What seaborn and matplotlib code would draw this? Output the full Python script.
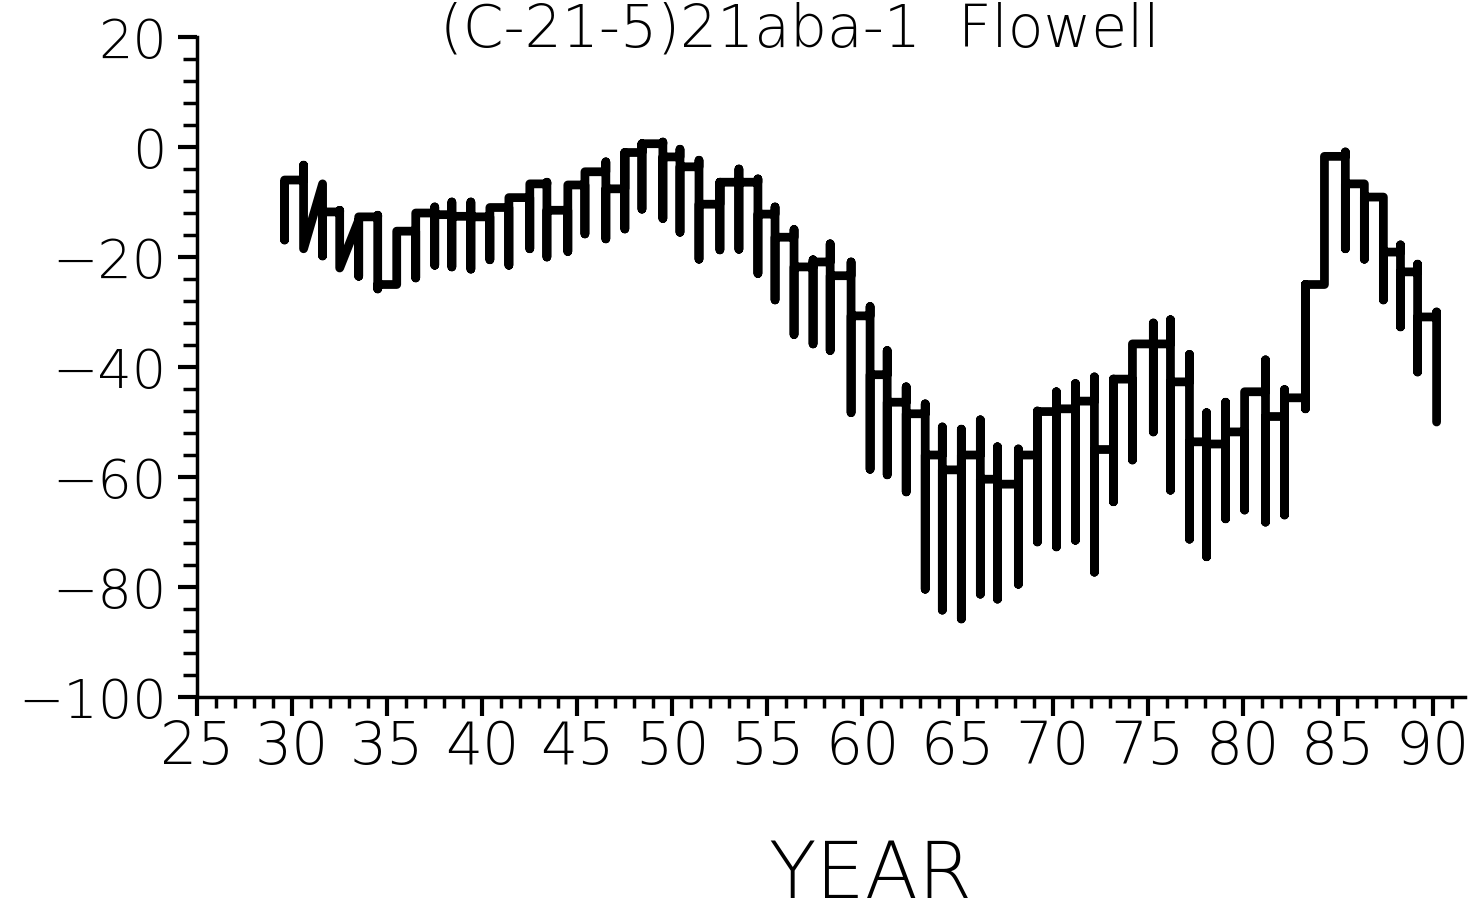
import numpy as np
import pandas as pd
import seaborn as sns
import matplotlib.pyplot as plt
from matplotlib.ticker import FixedLocator, MultipleLocator

# ! Hydrograph data
# ? one spike per year: spring high, summer low, then the level the line settles at
spike_year = [29.6, 30.6, 31.6, 32.5, 33.5, 34.5, 35.5, 36.5, 37.5, 38.4,
              39.4, 40.4, 41.4, 42.5, 43.4, 44.5, 45.4, 46.5, 47.5, 48.4,
              49.5, 50.4, 51.4, 52.5, 53.5, 54.5, 55.4, 56.4, 57.4, 58.3,
              59.4, 60.4, 61.3, 62.3, 63.3, 64.2, 65.2, 66.2, 67.1, 68.2,
              69.2, 70.2, 71.2, 72.2, 73.2, 74.2, 75.3, 76.2, 77.2, 78.1,
              79.1, 80.1, 81.2, 82.2, 83.3, 84.3, 85.4, 86.4, 87.4, 88.3,
              89.2, 90.2]
spring_high = [-6.4, -3.3, -6.7, -11.5, -13.3, -12.4, -15.5, -12.2, -10.9, -10.0,
               -10.0, -11.3, -9.5, -6.9, -6.4, -7.6, -5.8, -2.7, -1.0, 0.6,
               0.9, -0.4, -2.4, -6.4, -4.0, -5.8, -10.9, -15.0, -20.5, -17.6,
               -20.9, -29.0, -37.0, -43.6, -46.7, -50.9, -51.3, -49.6, -54.5, -54.9,
               -48.0, -44.5, -43.0, -41.8, -42.2, -36.0, -32.0, -31.4, -37.7, -48.3,
               -46.4, -44.8, -38.7, -44.1, -25.0, -2.0, -0.9, -6.7, -9.1, -17.8,
               -21.3, -30.0]
summer_low = [-16.9, -18.5, -19.8, -22.0, -23.5, -25.8, -25.0, -23.8, -21.5, -21.8,
              -22.2, -20.5, -21.5, -18.5, -20.0, -19.0, -15.8, -16.7, -14.9, -11.3,
              -13.0, -15.5, -20.4, -18.7, -18.6, -23.0, -27.8, -34.1, -35.8, -37.0,
              -48.3, -58.6, -59.6, -62.7, -80.4, -84.2, -85.8, -81.3, -82.2, -79.5,
              -71.8, -72.7, -71.5, -77.3, -64.5, -56.9, -51.8, -62.4, -71.3, -74.5,
              -67.6, -66.0, -68.2, -66.9, -47.6, -25.0, -18.5, -20.4, -27.8, -32.7,
              -40.9, -50.0]
settle_level = [-6.0, None, -11.8, None, -12.7, -25.0, -15.3, -12.0, -12.3, -12.6,
                -12.7, -11.0, -9.2, -6.7, -11.5, -6.9, -4.5, -7.6, -1.0, 0.6,
                -1.8, -3.6, -10.4, -6.4, -6.4, -12.2, -16.4, -21.8, -20.9, -23.4,
                -30.7, -41.4, -46.4, -48.5, -56.0, -58.7, -56.0, -60.4, -61.3, -56.0,
                -48.1, -47.6, -46.2, -55.0, -42.2, -35.8, -35.8, -42.7, -53.6, -54.0,
                -51.8, -44.5, -49.0, -45.6, -25.0, -1.7, -6.7, -9.1, -19.1, -22.7,
                -30.9, None]

x_major = [25, 30, 35, 40, 45, 50, 55, 60, 65, 70, 75, 80, 85, 90]
x_labels = [str(v) for v in x_major]
y_major = [-100, -80, -60, -40, -20, 0, 20]
y_labels = ["\u2212100", "\u221280", "\u221260", "\u221240", "\u221220", "0", "20"]
title = "(C-21-5)21aba-1  Flowell"

# ! build the step trace in drawing order
rows = []
prev = None
for t, hi, lo, after in zip(spike_year, spring_high, summer_low, settle_level):
    if prev is not None:
        rows.append((t, prev))
    rows.append((t, hi))
    rows.append((t, lo))
    if after is not None:
        rows.append((t, after))
    prev = after
df = pd.DataFrame(rows, columns=["year", "level"])

sns.set_style("ticks")
plt.rcParams["font.family"] = ["DejaVu Sans"]
plt.rcParams["font.weight"] = "light"
plt.rcParams["text.color"] = "black"
plt.rcParams["axes.labelcolor"] = "black"
plt.rcParams["xtick.color"] = "black"
plt.rcParams["ytick.color"] = "black"

fig = plt.figure(figsize=(14.71, 9.14), dpi=100)
ax = fig.add_axes([0.134, 0.2374, 0.862, 0.7221])

sns.lineplot(data=df, x="year", y="level", sort=False, estimator=None,
             color="black", lw=6.3, ax=ax,
             solid_capstyle="round", solid_joinstyle="round")

ax.set_xlim(25, 91.7)
ax.set_ylim(-100, 20)
sns.despine(ax=ax)
for s in ["left", "bottom"]:
    ax.spines[s].set_linewidth(2.5)
    ax.spines[s].set_color("black")

ax.xaxis.set_major_locator(FixedLocator(x_major))
ax.set_xticklabels(x_labels)
ax.xaxis.set_minor_locator(MultipleLocator(1))
ax.yaxis.set_major_locator(FixedLocator(y_major))
ax.set_yticklabels(y_labels)
ax.yaxis.set_minor_locator(MultipleLocator(4))

ax.tick_params(axis="x", which="major", length=14, width=3, labelsize=42, pad=2,
               color="black", labelcolor="black")
ax.tick_params(axis="x", which="minor", length=8, width=2.5, color="black")
ax.tick_params(axis="y", which="major", length=14, width=3, labelsize=39, pad=8,
               color="black", labelcolor="black")
ax.tick_params(axis="y", which="minor", length=10, width=2.5, color="black")

ax.set_ylabel("")
ax.set_xlabel("YEAR", fontsize=56, fontweight="light", color="black")
ax.xaxis.set_label_coords(0.531, -0.214)

fig.text(0.544, 1 - 47 / 914, title, fontsize=42, fontweight="light",
         color="black", ha="center", va="baseline")

fig.savefig("out.png", dpi=100)
